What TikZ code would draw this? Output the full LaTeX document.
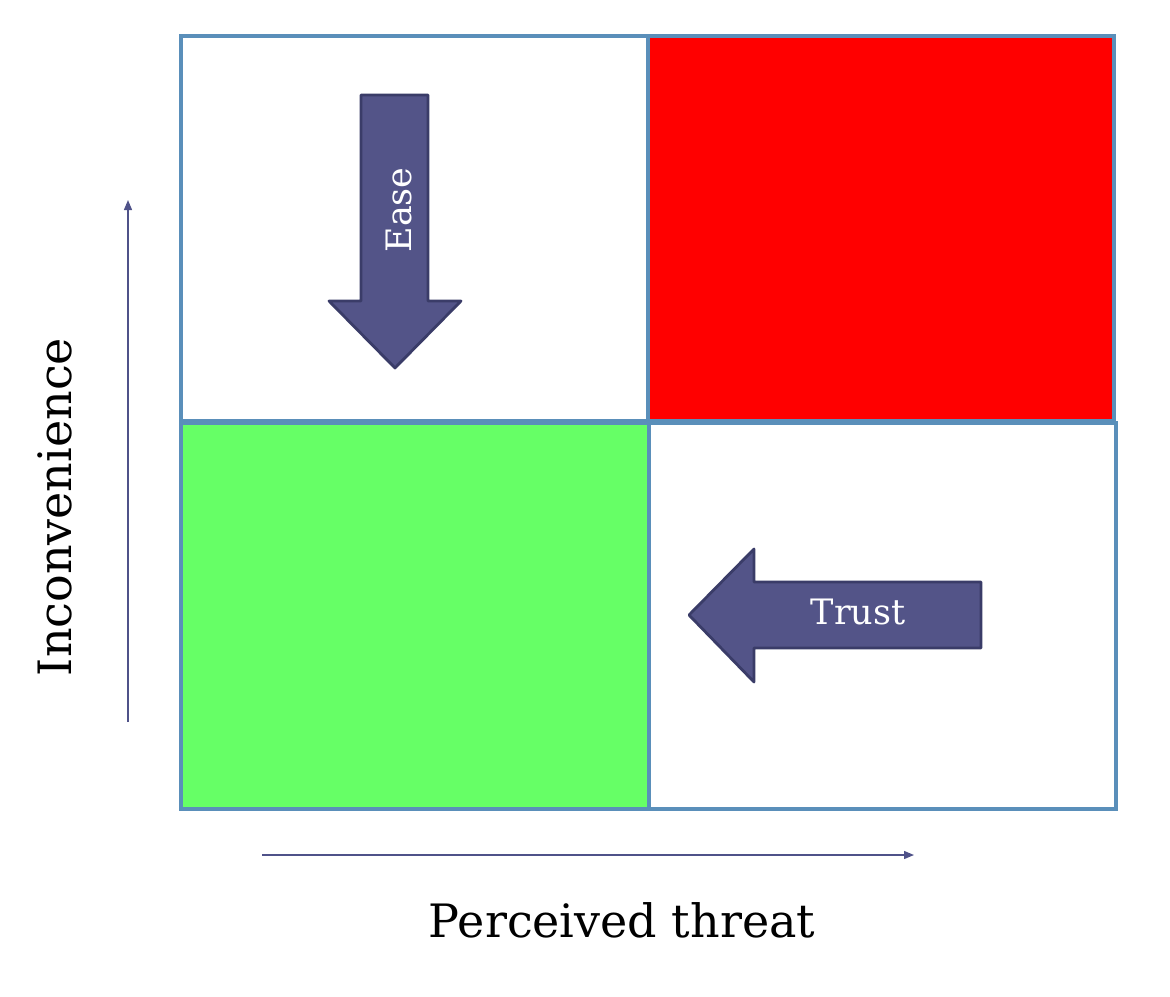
\documentclass[tikz,border=0pt]{standalone}
\usepackage{fontspec}
\setmainfont{DejaVu Serif}
\usetikzlibrary{arrows.meta}
\definecolor{gridblue}{HTML}{5A8FBA}
\definecolor{arrfill}{HTML}{535488}
\definecolor{arredge}{HTML}{3A3C68}
\definecolor{axiscol}{HTML}{4F5289}
\definecolor{qgreen}{HTML}{66FF66}
\definecolor{qred}{HTML}{FF0000}
\tikzset{
  quad/.style={draw=gridblue, line width=3.5pt},
  bigarrow/.style={fill=arrfill, draw=arredge, line width=2.8pt, line join=round},
  axis/.style={draw=axiscol, line width=1.3pt, -{Triangle[length=10pt,width=8pt]}},
  bigtext/.style={font=\fontsize{46}{50}\selectfont, text=black},
  arrtext/.style={font=\fontsize{35}{38}\selectfont, text=white},
}
\begin{document}
\begin{tikzpicture}[x=1pt,y=-1pt]
\useasboundingbox (0,0) rectangle (1170,996);
% quadrants
\path[quad, fill=white] (181,36) rectangle (648,421);
\path[quad, fill=qred] (648,36) rectangle (1114,421);
\path[quad, fill=qgreen] (181,423) rectangle (649,809);
\path[quad, fill=white] (649,423) rectangle (1116,809);
% down arrow (Ease)
\path[bigarrow] (361,95) -- (428,95) -- (428,301) -- (461,301) -- (395,368) -- (329,301) -- (361,301) -- cycle;
\node[arrtext, rotate=90] (ease) at (399,210) {Ease};
% left arrow (Trust)
\path[bigarrow] (981,582) -- (981,648) -- (754,648) -- (754,682) -- (689,615) -- (754,549) -- (754,582) -- cycle;
\node[arrtext] (trust) at (858,612) {Trust};
% axes
\coordinate (ystart) at (128,722);
\coordinate (yend) at (128,200);
\coordinate (xstart) at (262,855);
\coordinate (xend) at (914,855);
\draw[axis] (ystart) -- (yend);
\draw[axis] (xstart) -- (xend);
\node[bigtext, rotate=90] (yl) at (55,507) {Inconvenience};
\node[bigtext] (xl) at (622,920) {Perceived threat};
\end{tikzpicture}
\end{document}
